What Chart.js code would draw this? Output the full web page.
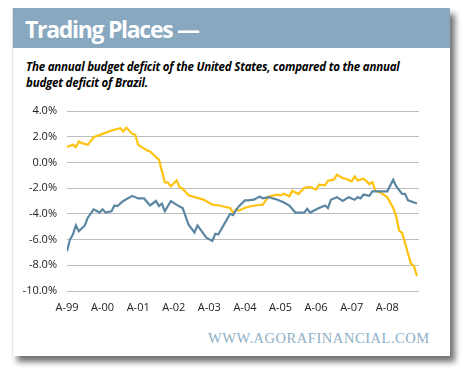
<!DOCTYPE html>
<html>
<head>
<meta charset="utf-8">
<script src="https://cdn.jsdelivr.net/npm/chart.js@4"></script>
<style>
  html, body { margin: 0; padding: 0; background: #fff; }
  .page { position: relative; width: 469px; height: 378px; overflow: hidden; background: #fff; }
  .card {
    position: absolute; left: 12px; top: 8px; width: 437px; height: 348px;
    background: #fff; border-left: 1px solid #e4e4e4;
    box-shadow: 5px 6px 6px rgba(0,0,0,0.55);
  }
  .header {
    position: absolute; left: 0; top: 0; width: 437px; height: 40px; background: #88a8bf;
  }
  .title {
    position: absolute; left: 12px; top: 5px; color: #fff;
    font-family: "Open Sans", sans-serif; font-weight: 700; font-size: 23px;
    letter-spacing: -1.3px; white-space: nowrap;
  }
  .subtitle {
    position: absolute; left: 13px; top: 51px; color: #000;
    font-family: "Open Sans", sans-serif; font-weight: 700; font-style: italic;
    font-size: 11.5px; line-height: 16px; letter-spacing: -0.2px; white-space: nowrap;
  }
  .mark {
    position: absolute; left: 195px; top: 322px; color: #8eafc6;
    font-family: "Liberation Serif", serif; font-size: 14.5px; letter-spacing: 0.55px; white-space: nowrap;
  }
  #chart { position: absolute; left: 0; top: 0; }
</style>
</head>
<body>
<div class="page">
  <div class="card">
    <div class="header"><div class="title">Trading Places —</div></div>
    <div class="subtitle">The annual budget deficit of the United States, compared to the annual<br>budget deficit of Brazil.</div>
    <div class="mark">WWW.AGORAFINANCIAL.COM</div>
  </div>
  <canvas id="chart" width="469" height="378"></canvas>
</div>
<script>
// months counted from A-99
const yearLabels = ['A-99', 'A-00', 'A-01', 'A-02', 'A-03', 'A-04', 'A-05', 'A-06', 'A-07', 'A-08'];
const yTicks = [4, 2, 0, -2, -4, -6, -8, -10];

const usMonths = [0, 1, 2, 3, 4, 6, 7, 9, 11, 12, 13, 15, 16, 17, 19, 22, 24, 26, 28, 30, 31, 32, 33, 35, 37, 39,
  41, 43, 44, 47, 49, 50, 51, 55, 56, 57, 58, 60, 61, 63, 65, 66, 68, 71, 73, 75, 77, 79, 80, 81, 82, 85, 87, 88,
  89, 91, 93, 95, 97, 98, 99, 100, 102, 103, 108, 110, 111, 113, 114, 115, 118];
const usValues = [-6.9, -6.0, -5.6, -4.9, -5.35, -4.9, -4.3, -3.65, -3.9, -3.65, -3.9, -3.8, -3.35, -3.4, -3.0, -2.6,
  -2.8, -2.8, -3.35, -3.0, -3.4, -3.2, -3.8, -3.0, -3.3, -3.55, -4.85, -5.45, -4.9, -5.85, -6.1, -5.55, -5.6, -4.0,
  -4.1, -3.7, -3.4, -2.95, -2.95, -2.9, -2.65, -2.8, -2.7, -2.9, -3.1, -3.35, -3.9, -3.9, -3.9, -3.6, -3.9, -3.55,
  -3.35, -3.55, -2.9, -2.7, -3.0, -2.7, -2.9, -2.7, -2.8, -2.5, -2.6, -2.25, -2.25, -1.35, -1.85, -2.45, -2.45,
  -2.95, -3.2];

const brazilMonths = [0, 2, 3, 4, 5, 7, 9, 12, 15, 18, 19, 20, 22, 23, 24, 27, 28, 30, 31, 33, 34, 35, 37, 38, 39,
  41, 46, 49, 51, 55, 56, 57, 58, 60, 62, 64, 66, 68, 71, 72, 73, 75, 76, 78, 80, 82, 84, 85, 87, 88, 90, 91, 93,
  94, 96, 97, 98, 100, 101, 102, 103, 104, 106, 108, 110, 111, 112, 113, 116, 117, 118];
const brazilValues = [1.2, 1.37, 1.2, 1.63, 1.5, 1.37, 1.96, 2.22, 2.48, 2.66, 2.4, 2.71, 2.22, 2.15, 1.37, 0.93,
  0.85, 0.41, 0.21, -1.55, -1.55, -1.86, -1.4, -1.94, -2.04, -2.56, -2.89, -3.28, -3.33, -3.54, -3.93, -3.67, -3.75,
  -3.52, -3.41, -3.33, -3.28, -2.64, -2.5, -2.56, -2.43, -2.64, -2.2, -2.46, -1.99, -1.91, -2.12, -1.73, -1.78,
  -1.42, -1.34, -0.95, -1.22, -1.27, -1.47, -1.09, -1.4, -1.27, -1.47, -1.68, -1.53, -2.2, -2.38, -2.71, -3.54,
  -4.19, -5.3, -5.48, -7.88, -8.06, -8.84];

const toPoints = (xs, ys) => xs.map((m, i) => ({ x: m, y: ys[i] }));
const tickFont = { family: '"Open Sans", sans-serif', size: 11 };

new Chart(document.getElementById('chart').getContext('2d'), {
  type: 'line',
  data: {
    datasets: [
      {
        label: 'United States',
        data: toPoints(usMonths, usValues),
        borderColor: '#5b87a3',
        borderWidth: 2.2,
        pointRadius: 0,
        tension: 0
      },
      {
        label: 'Brazil',
        data: toPoints(brazilMonths, brazilValues),
        borderColor: '#ffc20e',
        borderWidth: 2.2,
        pointRadius: 0,
        tension: 0
      }
    ]
  },
  options: {
    responsive: false,
    animation: false,
    layout: { padding: { left: 0, right: 50, top: 111, bottom: 57 } },
    plugins: { legend: { display: false }, tooltip: { enabled: false } },
    scales: {
      x: {
        type: 'linear',
        min: 0,
        max: 118.7,
        afterBuildTicks: scale => { scale.ticks = yearLabels.map((l, i) => ({ value: i * 12 })); },
        afterFit: scale => { scale.height = 30; },
        grid: { display: false, drawTicks: false },
        border: { display: false },
        ticks: {
          padding: 10,
          maxRotation: 0,
          autoSkip: false,
          color: '#222',
          font: tickFont,
          callback: v => yearLabels[Math.round(v / 12)]
        }
      },
      y: {
        min: -10,
        max: 4,
        afterBuildTicks: scale => { scale.ticks = yTicks.map(v => ({ value: v })); },
        afterFit: scale => { scale.width = 67; },
        grid: { color: '#bdbdbd', lineWidth: 1, drawTicks: false },
        border: { display: false },
        ticks: {
          padding: 10,
          color: '#222',
          font: tickFont,
          callback: v => v.toFixed(1) + '%'
        }
      }
    }
  }
});
</script>
</body>
</html>
